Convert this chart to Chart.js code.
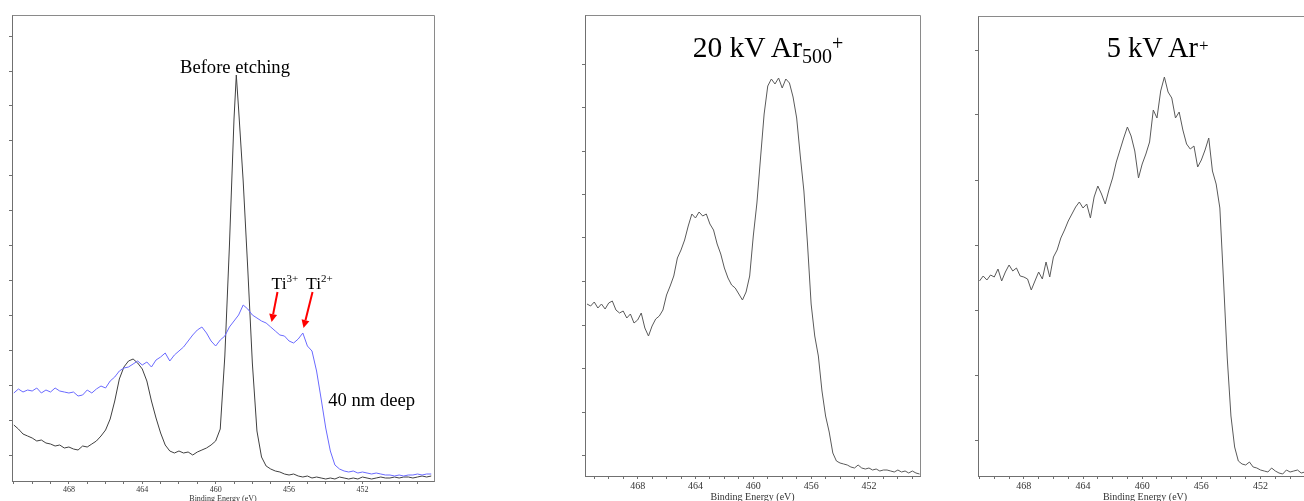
<!DOCTYPE html>
<html><head><meta charset="utf-8">
<script src="https://cdn.jsdelivr.net/npm/chart.js@4.4.0/dist/chart.umd.min.js"></script>
<style>
html,body{margin:0;padding:0;width:1304px;height:501px;overflow:hidden;background:#fff;position:relative;}
canvas{position:absolute;top:0;}
.t{position:absolute;white-space:nowrap;font-family:'Liberation Serif','Times New Roman',serif;color:#000;line-height:1;}
.t span{line-height:0;}
</style></head><body>
<canvas id="c1" width="440" height="505" style="left:0px"></canvas>
<canvas id="c2" width="365" height="505" style="left:560px"></canvas>
<canvas id="c3" width="360" height="505" style="left:960px"></canvas>

<div class="t" style="left:180px;top:57.7px;font-size:18.6px">Before etching</div>
<div class="t" style="left:271.5px;top:275.3px;font-size:17.6px">Ti<span style="font-size:11px;vertical-align:7px">3+</span></div>
<div class="t" style="left:306px;top:275.3px;font-size:17.6px">Ti<span style="font-size:11px;vertical-align:7px">2+</span></div>
<div class="t" style="left:328.3px;top:390.9px;font-size:18.6px">40 nm deep</div>
<div class="t" style="left:692.7px;top:32.6px;font-size:29.5px">20 kV Ar<span style="font-size:20px;vertical-align:-6px">500</span><span style="font-size:20px;vertical-align:6.6px">+</span></div>
<div class="t" style="left:1106.7px;top:34.4px;font-size:28.5px">5 kV Ar<span style="font-size:17px;vertical-align:6px;margin-left:1px">+</span></div>

<script>
// ---------- Panel 1 : Ti 2p, before etching vs 40 nm deep ----------
const energy1 = [471, 470.75, 470.5, 470.25, 470, 469.75, 469.5, 469.25, 469, 468.75, 468.5, 468.25, 468, 467.75, 467.5, 467.25, 467, 466.75, 466.5, 466.25, 466, 465.75, 465.5, 465.25, 465, 464.75, 464.5, 464.25, 464, 463.75, 463.5, 463.25, 463, 462.75, 462.5, 462.25, 462, 461.75, 461.5, 461.25, 461, 460.75, 460.5, 460.25, 460, 459.75, 459.5, 459.25, 459, 458.875, 458.75, 458.5, 458.25, 458, 457.75, 457.5, 457.25, 457, 456.75, 456.5, 456.25, 456, 455.75, 455.5, 455.25, 455, 454.75, 454.5, 454.25, 454, 453.75, 453.5, 453.25, 453, 452.75, 452.5, 452.25, 452, 451.75, 451.5, 451.25, 451, 450.75, 450.5, 450.25, 450, 449.75, 449.5, 449.25, 449, 448.75, 448.5, 448.25];
const beforeEtching = [56,
  52, 47, 45, 43,
  40, 41, 38, 37,
  35, 36, 33, 34,
  32, 31, 35, 34,
  37, 40, 45, 51,
  62, 80, 102, 114,
  120, 122, 118, 112,
  100, 80, 63, 48,
  36, 30, 28, 30,
  28, 29, 26, 29,
  31, 33, 36, 40,
  52, 125, 235, 362,
  406,
  372, 300, 212, 118,
  50, 24, 15, 12,
  10, 9, 7, 6,
  7, 5, 4, 5,
  3, 4, 3, 2,
  3, 2, 4, 3,
  2, 3, 2, 4,
  3, 2, 3, 4,
  3, 3, 4, 3,
  4, 4, 3, 4,
  5, 4, 5];
const deep40nm = [88,
  92, 89, 91, 90,
  93, 88, 91, 89,
  93, 90, 89, 88,
  89, 85, 86, 91,
  88, 92, 95, 93,
  100, 104, 110, 113,
  114, 117, 120, 116,
  119, 114, 121, 124,
  128, 120, 126, 130,
  134, 140, 146, 151,
  154, 148, 140, 135,
  141, 145, 154, 160,
  163,
  166, 176, 172, 166,
  163, 160, 158, 154,
  150, 146, 145, 140,
  138, 142, 148, 135,
  130, 110, 82, 53,
  30, 16, 12, 10,
  9, 10, 8, 9,
  8, 7, 8, 7,
  6, 6, 5, 6,
  5, 6, 6, 7,
  6, 7, 7];

// ---------- Panel 2 : 20 kV Ar500+ ----------
const energy2 = [471.5, 471.25, 471, 470.75, 470.5, 470.25, 470, 469.75, 469.5, 469.25, 469, 468.75, 468.5, 468.25, 468, 467.75, 467.5, 467.25, 467, 466.75, 466.5, 466.25, 466, 465.75, 465.5, 465.25, 465, 464.75, 464.5, 464.25, 464, 463.75, 463.5, 463.25, 463, 462.75, 462.5, 462.25, 462, 461.75, 461.5, 461.25, 461, 460.75, 460.5, 460.25, 460, 459.75, 459.5, 459.25, 459, 458.75, 458.5, 458.25, 458, 457.75, 457.5, 457.25, 457, 456.75, 456.5, 456.25, 456, 455.75, 455.5, 455.25, 455, 454.75, 454.5, 454.25, 454, 453.75, 453.5, 453.25, 453, 452.75, 452.5, 452.25, 452, 451.75, 451.5, 451.25, 451, 450.75, 450.5, 450.25, 450, 449.75, 449.5, 449.25, 449, 448.75, 448.5];
const arCluster = [172, 170,
  174, 168, 172, 167,
  173, 175, 166, 163,
  165, 158, 162, 153,
  156, 163, 148, 140,
  150, 157, 160, 166,
  181, 190, 200, 218,
  226, 236, 250, 262,
  258, 264, 260, 262,
  252, 246, 232, 222,
  208, 198, 191, 188,
  182, 176, 184, 200,
  240, 273, 318, 362,
  390, 397, 392, 398,
  388, 397, 393, 379,
  358, 320, 285, 232,
  172, 140, 120, 85,
  60, 44, 23, 15,
  13, 12, 11, 9,
  8, 11, 8, 7,
  8, 6, 7, 5,
  6, 6, 5, 4,
  6, 4, 5, 3,
  5, 3, 2];

// ---------- Panel 3 : 5 kV Ar+ ----------
const energy3 = [471, 470.75, 470.5, 470.25, 470, 469.75, 469.5, 469.25, 469, 468.75, 468.5, 468.25, 468, 467.75, 467.5, 467.25, 467, 466.75, 466.5, 466.25, 466, 465.75, 465.5, 465.25, 465, 464.75, 464.5, 464.25, 464, 463.75, 463.5, 463.25, 463, 462.75, 462.5, 462.25, 462, 461.75, 461.5, 461.25, 461, 460.75, 460.5, 460.25, 460, 459.75, 459.5, 459.25, 459, 458.75, 458.5, 458.25, 458, 457.75, 457.5, 457.25, 457, 456.75, 456.5, 456.25, 456, 455.75, 455.5, 455.25, 455, 454.75, 454.5, 454.25, 454, 453.75, 453.5, 453.25, 453, 452.75, 452.5, 452.25, 452, 451.75, 451.5, 451.25, 451, 450.75, 450.5, 450.25, 450, 449.75, 449.5, 449.25, 449, 448.75, 448.5];
const arMono = [195,
  200, 196, 201, 199,
  207, 195, 204, 211,
  205, 208, 200, 199,
  197, 186, 195, 204,
  197, 214, 199, 219,
  226, 238, 246, 255,
  262, 269, 274, 268,
  272, 258, 279, 290,
  282, 272, 286, 298,
  314, 326, 338, 349,
  340, 325, 298, 312,
  322, 334, 366, 358,
  385, 399, 384, 378,
  358, 364, 346, 332,
  327, 330, 309, 316,
  326, 338, 305, 292,
  268, 195, 118, 60,
  29, 15, 12, 11,
  14, 9, 8, 6,
  5, 4, 8, 5,
  3, 2, 6, 4,
  5, 6, 3, 4,
  3, 4];

// ---------- Axis ticks ----------
const xTickValues = [471, 470, 469, 468, 467, 466, 465, 464, 463, 462, 461, 460, 459, 458, 457, 456, 455, 454, 453, 452, 451, 450, 449];
const xTickLabels = [468, 464, 460, 456, 452];
const yTicks1 = [26, 61, 96, 131, 166, 201, 236, 271, 306, 341, 376, 410, 445];
const yTicks2 = [21, 64, 108, 151, 194, 238, 281, 325, 368, 412];
const yTicks3 = [36, 101, 166, 231, 296, 361, 426];

// Arrows pointing at Ti3+ and Ti2+ (binding energy, intensity)
const arrowTi3 = {from: [456.63, 189], to: [456.95, 159]};
const arrowTi2 = {from: [454.72, 189], to: [455.21, 153]};

const AXIS = '#707070';

const framePlugin = {
  id: 'frame',
  afterDraw(chart) {
    const {ctx, chartArea: a} = chart;
    ctx.save();
    ctx.strokeStyle = '#8a8a8a';
    ctx.lineWidth = 1;
    ctx.beginPath();
    ctx.moveTo(Math.round(a.left) + 0.5, Math.round(a.top) + 0.5);
    ctx.lineTo(Math.round(a.right) + 0.5, Math.round(a.top) + 0.5);
    ctx.lineTo(Math.round(a.right) + 0.5, Math.round(a.bottom) + 0.5);
    ctx.stroke();
    ctx.restore();
  }
};

const arrowPlugin = {
  id: 'arrows',
  afterDatasetsDraw(chart, args, opts) {
    const list = opts.list || [];
    const {ctx, scales: {x, y}} = chart;
    ctx.save();
    ctx.strokeStyle = '#ff0000';
    ctx.fillStyle = '#ff0000';
    ctx.lineWidth = 2;
    list.forEach(a => {
      const x0 = x.getPixelForValue(a.from[0]), y0 = y.getPixelForValue(a.from[1]);
      const x1 = x.getPixelForValue(a.to[0]), y1 = y.getPixelForValue(a.to[1]);
      const ang = Math.atan2(y1 - y0, x1 - x0);
      const hl = 8, hw = 4;
      const bx = x1 - hl * Math.cos(ang), by = y1 - hl * Math.sin(ang);
      ctx.beginPath();
      ctx.moveTo(x0, y0);
      ctx.lineTo(bx, by);
      ctx.stroke();
      ctx.beginPath();
      ctx.moveTo(x1, y1);
      ctx.lineTo(bx + hw * Math.sin(ang), by - hw * Math.cos(ang));
      ctx.lineTo(bx - hw * Math.sin(ang), by + hw * Math.cos(ang));
      ctx.closePath();
      ctx.fill();
    });
    ctx.restore();
  }
};

function pts(xs, ys) { return xs.map((v, i) => ({x: v, y: ys[i]})); }

function makePanel(id, cfg) {
  return new Chart(document.getElementById(id), {
    type: 'line',
    data: {
      datasets: cfg.series.map(s => ({
        data: pts(s.x, s.y), borderColor: s.color, borderWidth: s.width,
        pointRadius: 0, tension: 0, fill: false
      }))
    },
    options: {
      responsive: false, animation: false,
      layout: {padding: {top: cfg.padTop, right: cfg.padRight, left: 0, bottom: 0}},
      plugins: {legend: {display: false}, tooltip: {enabled: false}, arrows: {list: cfg.arrows || []}},
      scales: {
        x: {
          type: 'linear', reverse: true, min: cfg.xMin, max: cfg.xMax,
          afterBuildTicks: s => { s.ticks = xTickValues.map(v => ({value: v})); },
          afterFit: s => { s.height = cfg.xHeight; },
          ticks: {
            autoSkip: false, maxRotation: 0, minRotation: 0, padding: cfg.labelPad, color: '#333',
            font: {family: "'Liberation Serif', serif", size: cfg.tickSize},
            callback: v => xTickLabels.indexOf(v) >= 0 ? String(v) : ''
          },
          grid: {drawOnChartArea: false, drawTicks: true, tickLength: 3, color: AXIS},
          border: {display: true, color: AXIS, width: 1},
          title: {
            display: true, text: 'Binding Energy (eV)', color: '#333',
            font: {family: "'Liberation Serif', serif", size: cfg.titleSize, lineHeight: 1.2},
            padding: {top: 0, bottom: cfg.titlePad}
          }
        },
        y: {
          type: 'linear', min: 0, max: cfg.yMax,
          afterBuildTicks: s => { s.ticks = cfg.yTicks.map(v => ({value: v})); },
          afterFit: s => { s.width = cfg.yWidth; },
          ticks: {display: false},
          grid: {drawOnChartArea: false, drawTicks: true, tickLength: 3, color: AXIS},
          border: {display: true, color: AXIS, width: 1}
        }
      }
    },
    plugins: [framePlugin, arrowPlugin]
  });
}

makePanel('c1', {
  series: [
    {x: energy1, y: deep40nm, color: '#6a6aff', width: 1},
    {x: energy1, y: beforeEtching, color: '#404040', width: 1}
  ],
  arrows: [arrowTi3, arrowTi2],
  xMin: 448.1, xMax: 471.1, yMax: 466, yTicks: yTicks1,
  padTop: 15, padRight: 6, yWidth: 12, xHeight: 24,
  tickSize: 8, titleSize: 8, labelPad: 1, titlePad: 1
});

makePanel('c2', {
  series: [{x: energy2, y: arCluster, color: '#5a5a5a', width: 1}],
  xMin: 448.47, xMax: 471.64, yMax: 461, yTicks: yTicks2,
  padTop: 15, padRight: 5, yWidth: 25, xHeight: 29,
  tickSize: 10, titleSize: 10, labelPad: 1, titlePad: 1.5
});

makePanel('c3', {
  series: [{x: energy3, y: arMono, color: '#5a5a5a', width: 1}],
  xMin: 448.52, xMax: 471.1, yMax: 460, yTicks: yTicks3,
  padTop: 16, padRight: 8, yWidth: 18, xHeight: 29,
  tickSize: 10, titleSize: 10, labelPad: 1, titlePad: 1.5
});
</script>
</body></html>
